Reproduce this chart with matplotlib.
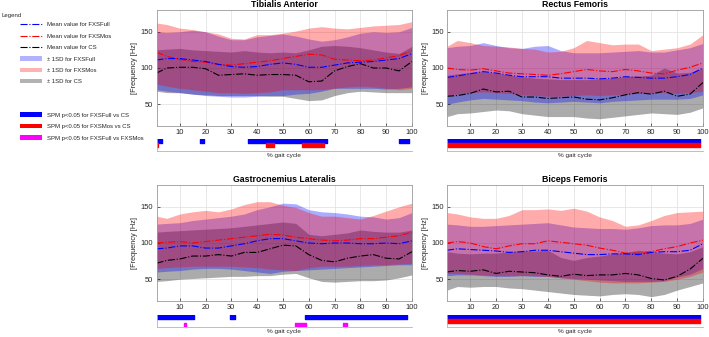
import matplotlib.pyplot as plt
from matplotlib.patches import Patch
from matplotlib.lines import Line2D

plt.rcParams['font.family'] = ['Liberation Sans', 'DejaVu Sans']

# gait cycle samples (%)
gait = [1, 5, 10, 15, 20, 25, 30, 35, 40, 45, 50, 55, 60, 65, 70, 75, 80, 85, 90, 95, 100]

# ---- Tibialis Anterior
ta_full_mean = [111, 113, 113, 111, 109, 105, 102, 101, 102, 105, 107, 105, 101, 101, 104, 107, 108, 109, 111, 113, 120]
ta_full_hi = [150, 149, 150, 152, 150, 144, 139, 139, 143, 145, 147, 144, 140, 137, 139, 143, 148, 150, 149, 150, 156]
ta_full_lo = [70, 68, 66, 64, 62, 61, 60, 60, 61, 62, 62, 64, 65, 68, 72, 72, 72, 72, 71, 72, 74]
ta_mos_mean = [122, 116, 112, 109, 108, 105, 104, 106, 108, 110, 113, 116, 119, 118, 112, 111, 110, 111, 114, 117, 124]
ta_mos_hi = [162, 160, 155, 153, 150, 147, 141, 140, 146, 146, 148, 151, 155, 157, 155, 154, 156, 158, 159, 160, 164]
ta_mos_lo = [78, 75, 72, 70, 68, 66, 66, 65, 66, 67, 70, 70, 70, 70, 72, 74, 75, 74, 72, 70, 72]
ta_cs_mean = [93, 100, 101, 101, 99, 90, 91, 92, 90, 91, 91, 90, 81, 82, 96, 102, 106, 100, 100, 96, 109]
ta_cs_hi = [125, 126, 127, 125, 124, 123, 122, 124, 122, 121, 122, 121, 125, 130, 131, 130, 128, 125, 122, 120, 130]
ta_cs_lo = [68, 66, 66, 64, 63, 62, 62, 62, 62, 61, 61, 58, 55, 56, 62, 66, 68, 67, 66, 66, 66]
ta_spm_full_cs = [(1, 3), (18, 19.5), (36.5, 67), (95, 99)]
ta_spm_mos_cs = [(1, 1.5), (43.5, 46.5), (57.5, 66)]
ta_spm_full_mos = []

# ---- Rectus Femoris
rf_full_mean = [87, 89, 92, 95, 93, 90, 88, 88, 88, 86, 86, 86, 85, 86, 88, 87, 86, 86, 88, 91, 100]
rf_full_hi = [128, 130, 131, 135, 131, 128, 127, 130, 131, 124, 121, 121, 121, 122, 123, 124, 122, 122, 125, 128, 134]
rf_full_lo = [50, 53, 56, 58, 57, 56, 55, 53, 52, 53, 54, 53, 52, 54, 55, 56, 57, 57, 57, 58, 63]
rf_mos_mean = [100, 98, 97, 99, 96, 93, 92, 91, 90, 92, 95, 98, 96, 95, 98, 96, 93, 92, 97, 101, 107]
rf_mos_hi = [130, 138, 135, 131, 130, 129, 127, 126, 122, 123, 128, 138, 135, 132, 133, 133, 124, 126, 128, 133, 146]
rf_mos_lo = [62, 64, 66, 67, 66, 65, 63, 62, 61, 61, 62, 63, 62, 63, 64, 65, 66, 66, 65, 66, 68]
rf_cs_mean = [61, 62, 65, 71, 67, 68, 60, 60, 58, 59, 60, 57, 56, 59, 63, 66, 64, 68, 61, 64, 80]
rf_cs_hi = [90, 92, 94, 95, 93, 90, 88, 86, 85, 84, 84, 84, 85, 86, 88, 89, 90, 100, 93, 94, 100]
rf_cs_lo = [33, 37, 38, 40, 42, 41, 37, 35, 33, 33, 33, 31, 30, 32, 34, 36, 38, 37, 36, 39, 45]
rf_spm_full_cs = [(1, 99)]
rf_spm_mos_cs = [(1, 99)]
rf_spm_full_mos = []

# ---- Gastrocnemius Lateralis
gl_full_mean = [92, 93, 96, 96, 93, 93, 96, 99, 103, 106, 106, 103, 100, 99, 100, 100, 99, 99, 100, 99, 103]
gl_full_hi = [126, 127, 128, 131, 133, 135, 137, 140, 146, 150, 155, 154, 146, 143, 142, 140, 137, 136, 133, 135, 142]
gl_full_lo = [60, 61, 62, 64, 65, 65, 64, 62, 60, 58, 61, 62, 63, 64, 65, 66, 67, 68, 69, 70, 70]
gl_mos_mean = [100, 101, 102, 100, 102, 104, 106, 108, 110, 112, 111, 108, 106, 104, 103, 104, 106, 106, 108, 110, 115]
gl_mos_hi = [137, 134, 140, 143, 145, 143, 147, 153, 157, 157, 152, 149, 142, 137, 137, 135, 133, 138, 144, 150, 155]
gl_mos_lo = [65, 66, 67, 68, 68, 68, 68, 67, 66, 64, 63, 62, 66, 68, 68, 68, 69, 70, 70, 71, 72]
gl_cs_mean = [72, 76, 78, 82, 82, 84, 82, 87, 87, 92, 97, 96, 84, 76, 74, 79, 82, 84, 79, 78, 88]
gl_cs_hi = [115, 116, 117, 118, 119, 120, 121, 123, 125, 127, 129, 127, 112, 110, 112, 114, 118, 116, 115, 115, 118]
gl_cs_lo = [47, 48, 50, 51, 52, 53, 54, 54, 55, 55, 57, 58, 52, 47, 46, 47, 48, 48, 49, 52, 56]
gl_spm_full_cs = [(1, 15.5), (29.5, 31.5), (58.5, 98)]
gl_spm_mos_cs = []
gl_spm_full_mos = [(11.5, 12.4), (54.5, 59), (73.3, 75)]

# ---- Biceps Femoris
bf_full_mean = [90, 92, 91, 90, 89, 87, 88, 90, 90, 88, 86, 84, 84, 85, 85, 84, 87, 88, 88, 90, 99]
bf_full_hi = [126, 125, 123, 123, 124, 125, 126, 127, 128, 125, 122, 121, 120, 120, 119, 121, 124, 125, 125, 127, 133]
bf_full_lo = [55, 56, 56, 55, 54, 54, 55, 54, 54, 52, 51, 50, 49, 48, 47, 47, 47, 48, 53, 57, 65]
bf_mos_mean = [100, 102, 100, 95, 92, 96, 99, 99, 103, 101, 99, 97, 93, 90, 86, 86, 88, 92, 95, 100, 104]
bf_mos_hi = [142, 140, 136, 134, 134, 138, 146, 146, 147, 145, 148, 144, 136, 131, 123, 125, 131, 138, 142, 143, 144]
bf_mos_lo = [58, 58, 57, 56, 55, 55, 55, 55, 54, 52, 50, 48, 46, 45, 45, 45, 46, 47, 50, 54, 60]
bf_cs_mean = [60, 62, 61, 63, 58, 61, 60, 59, 56, 54, 57, 55, 56, 56, 58, 56, 51, 49, 54, 64, 79]
bf_cs_hi = [88, 86, 85, 86, 86, 88, 89, 89, 90, 80, 76, 80, 82, 85, 87, 90, 88, 86, 85, 88, 95]
bf_cs_lo = [35, 40, 39, 40, 40, 38, 37, 35, 33, 31, 29, 28, 27, 29, 30, 29, 26, 29, 35, 40, 45]
bf_spm_full_cs = [(1, 99)]
bf_spm_mos_cs = [(1, 99)]
bf_spm_full_mos = []

panels = [
    ('Tibialis Anterior', (156.5, 10, 412, 126), (156.5, 138.5, 412, 151),
     ta_full_mean, ta_full_hi, ta_full_lo, ta_mos_mean, ta_mos_hi, ta_mos_lo,
     ta_cs_mean, ta_cs_hi, ta_cs_lo, ta_spm_full_cs, ta_spm_mos_cs, ta_spm_full_mos),
    ('Rectus Femoris', (447, 10, 703, 126), (447, 138.5, 703, 151),
     rf_full_mean, rf_full_hi, rf_full_lo, rf_mos_mean, rf_mos_hi, rf_mos_lo,
     rf_cs_mean, rf_cs_hi, rf_cs_lo, rf_spm_full_cs, rf_spm_mos_cs, rf_spm_full_mos),
    ('Gastrocnemius Lateralis', (156.5, 185, 412, 301), (156.5, 314.5, 412, 327),
     gl_full_mean, gl_full_hi, gl_full_lo, gl_mos_mean, gl_mos_hi, gl_mos_lo,
     gl_cs_mean, gl_cs_hi, gl_cs_lo, gl_spm_full_cs, gl_spm_mos_cs, gl_spm_full_mos),
    ('Biceps Femoris', (447, 185, 703, 301), (447, 314.5, 703, 327),
     bf_full_mean, bf_full_hi, bf_full_lo, bf_mos_mean, bf_mos_hi, bf_mos_lo,
     bf_cs_mean, bf_cs_hi, bf_cs_lo, bf_spm_full_cs, bf_spm_mos_cs, bf_spm_full_mos),
]

W, H = 709, 337
fig = plt.figure(figsize=(W / 100, H / 100), dpi=100)


def px_axes(box):
    x0, y0, x1, y1 = box
    return fig.add_axes([x0 / W, 1 - y1 / H, (x1 - x0) / W, (y1 - y0) / H])


BLUE = (0, 0, 1)
RED = (1, 0, 0)
BLACK = (0, 0, 0)
MAGENTA = (1, 0, 1)
FRAME = '#9a9a9a'
TXT = '#262626'
A = 0.33

for (title, box, spm_box, fm, fh, fl, mm, mh, ml, cm, ch, cl,
     spm_fc, spm_mc, spm_fm) in panels:
    ax = px_axes(box)
    ax.fill_between(gait, cl, ch, color=BLACK, alpha=A, lw=0)
    ax.fill_between(gait, fl, fh, color=BLUE, alpha=A, lw=0)
    ax.fill_between(gait, ml, mh, color=RED, alpha=A, lw=0)
    ax.plot(gait, cm, color=BLACK, ls='-.', lw=0.8)
    ax.plot(gait, mm, color=RED, ls='-.', lw=0.8)
    ax.plot(gait, fm, color=BLUE, ls='-.', lw=0.8)
    ax.set_xlim(1, 100)
    ax.set_ylim(20, 180)
    ax.set_xticks(range(10, 101, 10))
    ax.set_yticks([50, 100, 150])
    ax.grid(True, color='#dedede', lw=0.5)
    ax.set_axisbelow(True)
    ax.tick_params(labelsize=5.4, colors=TXT, length=2, width=0.5, direction='in', pad=2.5)
    for s in ax.spines.values():
        s.set_color(FRAME)
        s.set_linewidth(0.6)
    ax.set_title(title, fontsize=6.3, fontweight='bold', color='black', pad=2)
    yc = 1 - (box[1] + box[3]) / 2 / H
    xl = 135 if box[0] < 300 else 426
    fig.text(xl / W, yc, '[Frequency [Hz]', rotation=90, ha='center', va='center',
             fontsize=5.3, color=TXT)

    sx = px_axes(spm_box)
    for row, spans, col in [(2, spm_fc, BLUE), (1, spm_mc, RED), (0, spm_fm, MAGENTA)]:
        if spans:
            sx.broken_barh([(a, b - a) for a, b in spans], (row, 1), color=col)
    sx.set_xlim(1, 100)
    sx.set_ylim(0, 3)
    sx.set_xticks([])
    sx.set_yticks([])
    for k in ['top', 'right']:
        sx.spines[k].set_visible(False)
    for k in ['left', 'bottom']:
        sx.spines[k].set_color('#b4b4b4')
        sx.spines[k].set_linewidth(0.6)
    fig.text((spm_box[0] + spm_box[2]) / 2 / W, 1 - (spm_box[3] + 5) / H, '% gait cycle',
             ha='center', va='center', fontsize=4.6, color=TXT)

# legend
fig.text(1 / W, 1 - 16 / H, 'Legend', fontsize=4.3, color=TXT, va='center', ha='left')
h1 = [Line2D([], [], color=BLUE, ls='-.', lw=0.8),
      Line2D([], [], color=RED, ls='-.', lw=0.8),
      Line2D([], [], color=BLACK, ls='-.', lw=0.8),
      Patch(facecolor=BLUE, alpha=0.3, lw=0),
      Patch(facecolor=RED, alpha=0.3, lw=0),
      Patch(facecolor=BLACK, alpha=0.3, lw=0)]
l1 = ['Mean value for FXSFull', 'Mean value for FXSMos', 'Mean value for CS',
      '\u00b1 1SD for FXSFull', '\u00b1 1SD for FXSMos', '\u00b1 1SD for CS']
h2 = [Patch(facecolor=BLUE, lw=0), Patch(facecolor=RED, lw=0), Patch(facecolor=MAGENTA, lw=0)]
l2 = ['SPM p<0.05 for FXSFull vs CS', 'SPM p<0.05 for FXSMos vs CS',
      'SPM p<0.05 for FXSFull vs FXSMos']
common = dict(frameon=False, fontsize=4.3, handlelength=3.6, handletextpad=1.0,
              labelspacing=1.05, borderpad=0, borderaxespad=0, labelcolor=TXT)
leg1 = fig.legend(h1, l1, loc='upper left', bbox_to_anchor=(20 / W, 1 - 22 / H), **common)
leg2 = fig.legend(h2, l2, loc='upper left', bbox_to_anchor=(20 / W, 1 - 112.5 / H), **common)

fig.savefig('out.png', dpi=100)
